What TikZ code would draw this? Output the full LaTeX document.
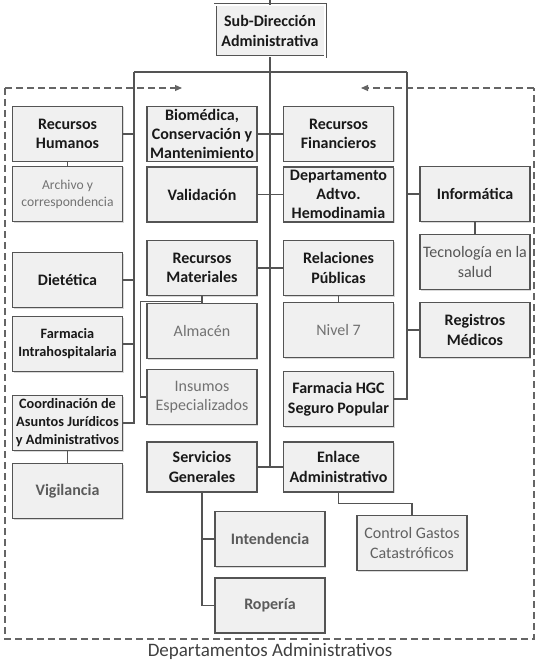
\documentclass[tikz,border=0pt]{standalone}
\usepackage{fontspec}
\setmainfont{Carlito}
\usetikzlibrary{arrows.meta,calc,shadows}
\definecolor{boxline}{HTML}{545454}
\definecolor{boxfill}{HTML}{F0F0F0}
\definecolor{subtext}{HTML}{727272}
\tikzset{
  unit/.style={
    draw=boxline,
    fill=boxfill,
    line width=1.25pt,
    minimum width=110pt,
    minimum height=55pt,
    inner sep=1pt,
    align=center,
    font=\fontsize{16}{19.5}\selectfont\bfseries,
    text=black!90,
    drop shadow={shadow xshift=1pt,shadow yshift=-1pt,opacity=0.3}
  },
  subunit/.style={
    unit,
    font=\fontsize{16}{19.5}\selectfont,
    text=subtext
  },
  subunitB/.style={
    unit,
    text=subtext!80!black
  },
  head/.style={
    unit,
    double=white,
    double distance=1.2pt,
    line width=0.9pt,
    minimum height=52pt
  },
  link/.style={
    draw=boxline,
    line width=1.1pt
  },
  frame/.style={
    draw=boxline!90,
    line width=1.1pt,
    dash pattern=on 7pt off 4pt
  }
}
\newcommand{\smallunit}{\fontsize{14.3}{18}\selectfont\bfseries}
\begin{document}
\begin{tikzpicture}[x=1pt,y=-1pt]
  \useasboundingbox (0,0) rectangle (542,660);
  % frame round the departments
  \coordinate (frNW) at (5,88);
  \coordinate (frSE) at (534,639);
  \coordinate (arL) at (182,88);
  \coordinate (arR) at (361,88);
  \draw[frame] (frNW) |- (frSE) |- (frNW -| frSE);
  \draw[frame,-{Triangle[length=7pt,width=6pt]}] (frNW) -- (arL);
  \draw[frame,-{Triangle[length=7pt,width=6pt]}] (frNW -| frSE) -- (arR);
  \node[anchor=base,font=\fontsize{19}{22}\selectfont,text=black!75] (cap) at (270,656) {Departamentos Administrativos};
  %
  \node[head] (sub) at (270,31) {Sub-Dirección\\Administrativa};
  % first column
  \node[unit] (rh) at (67.5,134) {Recursos\\Humanos};
  \node[subunit,font=\fontsize{13.6}{17}\selectfont] (arch) at (67.5,194) {Archivo y\\correspondencia};
  \node[unit] (diet) at (67.5,280) {Dietética};
  \node[unit,font=\smallunit] (fint) at (67.5,344) {Farmacia\\Intrahospitalaria};
  \node[unit,font=\smallunit] (coord) at (67.5,423) {Coordinación de\\Asuntos Jurídicos\\y Administrativos};
  \node[subunitB] (vig) at (67.5,491) {Vigilancia};
  % second column
  \node[unit,font=\fontsize{16}{19}\selectfont\bfseries] (bio) at (202,134) {Biomédica,\\Conservación y\\Mantenimiento};
  \node[unit] (val) at (202,194.5) {Validación};
  \node[unit] (rm) at (202,268) {Recursos\\Materiales};
  \node[subunit] (alm) at (202,331) {Almacén};
  \node[subunit] (ins) at (202,397) {Insumos\\Especializados};
  \node[unit,minimum height=50pt] (sg) at (202,467) {Servicios\\Generales};
  \node[subunitB] (int) at (270,539) {Intendencia};
  \node[subunitB] (rop) at (270,605.5) {Ropería};
  % third column
  \node[unit] (fin) at (338.5,134) {Recursos\\Financieros};
  \node[unit,font=\fontsize{16}{19}\selectfont\bfseries] (dpto) at (338.5,194.5) {Departamento\\Adtvo.\\Hemodinamia};
  \node[unit] (rp) at (338.5,268) {Relaciones\\Públicas};
  \node[subunit] (niv) at (338.5,330) {Nivel 7};
  \node[unit] (fhgc) at (338.5,399) {Farmacia HGC\\Seguro Popular};
  \node[unit,minimum height=50pt] (enl) at (338.5,467) {Enlace\\Administrativo};
  \node[subunit,text=subtext!85!black] (cgc) at (412,543) {Control Gastos\\Catastróficos};
  % fourth column
  \node[unit] (inf) at (475,194) {Informática};
  \node[subunit,text=subtext!75!black] (tec) at (475,262) {Tecnología en la\\salud};
  \node[unit] (reg) at (475,330) {Registros\\Médicos};
  %
  \coordinate (top) at (270,0);
  \coordinate (busL) at (134,72);
  \coordinate (busR) at (407,72);
  \draw[link] (top) -- (sub.north);
  \draw[link] (sub.south) -- (sub.south |- sg.east);
  \draw[link] (busL) -- (busR);
  \draw[link] (busL) |- (coord.east);
  \draw[link] (busR) |- (fhgc.east);
  \draw[link] (rh.east) -- (rh.east -| busL);
  \draw[link] (diet.east) -- (diet.east -| busL);
  \draw[link] (fint.east) -- (fint.east -| busL);
  \draw[link] (inf.west) -- (inf.west -| busR);
  \draw[link] (reg.west) -- (reg.west -| busR);
  \draw[link] (bio) -- (fin);
  \draw[link] (val) -- (dpto);
  \draw[link] (rm) -- (rp);
  \draw[link] (sg) -- (enl);
  \draw[link] (rh) -- (arch);
  \draw[link] (coord) -- (vig);
  \draw[link] (inf) -- (tec);
  \draw[link] (rp) -- (niv);
  \draw[link] (rm) -- (alm);
  % branches of Recursos Materiales, Servicios Generales, Enlace
  \coordinate (rmJ) at ($(rm.south)+(0,5)$);
  \coordinate (insJ) at ($(ins.west)+(-6,0)$);
  \draw[link] (rmJ) -| (insJ) -- (ins.west);
  \draw[link] (sg.south) |- (rop.west);
  \draw[link] (sg.south |- int.west) -- (int.west);
  \draw[link] (enl.south) -- ++(0,11) -| (cgc.north);
\end{tikzpicture}
\end{document}
